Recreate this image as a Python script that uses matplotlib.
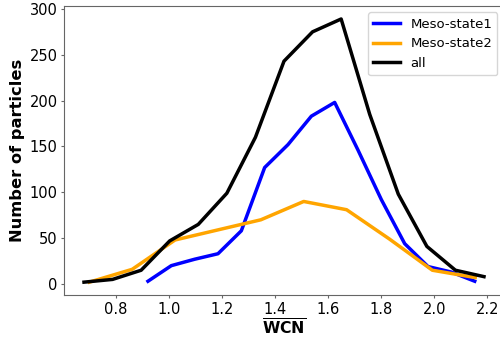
import numpy as np
import matplotlib
matplotlib.use("Agg")
import matplotlib.pyplot as plt

# histogram bin centres and counts
wcn_s1 = np.linspace(0.921, 2.152, 15)
count_s1 = [3, 20, 27, 33, 58, 127, 152, 183, 198, 146, 92, 44, 19, 13, 3]

wcn_s2 = np.linspace(0.70, 2.154, 10)
count_s2 = [2, 16, 48, 59, 70, 90, 81, 49, 15, 7]

wcn_all = np.linspace(0.68, 2.187, 15)
count_all = [2, 5, 15, 47, 65, 99, 160, 243, 275, 289, 185, 98, 41, 15, 8]

fig = plt.figure(figsize=(5, 3.37), dpi=100)
ax = fig.add_axes([0.128, 0.1237, 0.88, 0.859])

ax.plot(wcn_s1, count_s1, color='blue', lw=2.5, label='Meso-state1')
ax.plot(wcn_s2, count_s2, color='orange', lw=2.5, label='Meso-state2')
ax.plot(wcn_all, count_all, color='black', lw=2.5, label='all')

ax.set_xlabel(r'$\overline{\mathbf{WCN}}$', fontsize=11.3, fontweight='bold')
ax.xaxis.set_label_coords(0.5, -0.078)
ax.set_ylabel('Number of particles', fontsize=11.7, fontweight='bold')
ax.yaxis.set_label_coords(-0.088, 0.5)
ax.tick_params(labelsize=10.5, length=2.5, color='#666666', pad=2)
for s in ax.spines.values():
    s.set_color('#666666')
ax.set_xticks([0.8, 1.0, 1.2, 1.4, 1.6, 1.8, 2.0, 2.2])
ax.legend(loc='upper right', fontsize=9.5)

fig.savefig('out.png', dpi=100)
